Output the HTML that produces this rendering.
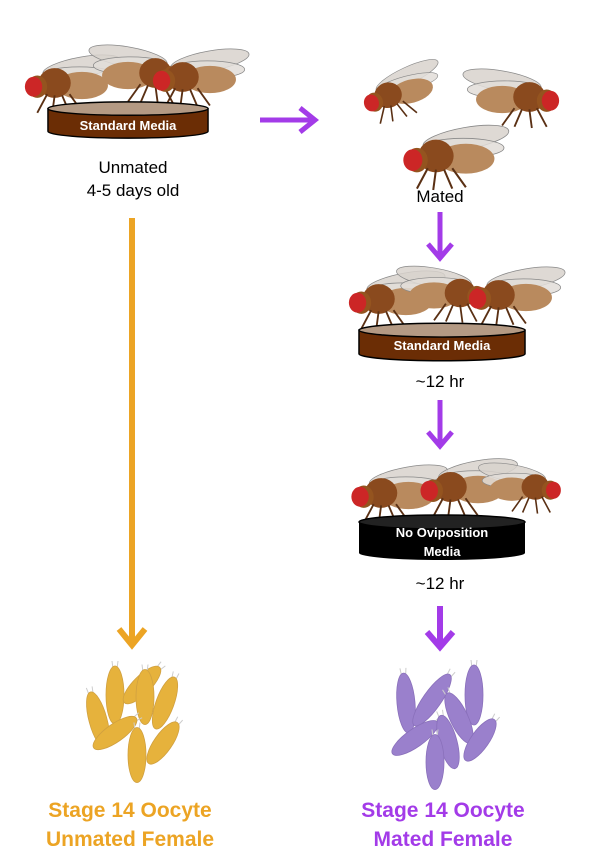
<!DOCTYPE html>
<html><head><meta charset="utf-8"><style>
html,body{margin:0;padding:0;background:#fff}
svg{display:block}
text{font-family:"Liberation Sans",sans-serif}
</style></head><body>
<svg width="590" height="868" viewBox="0 0 590 868">
<defs>
<symbol id="fly" viewBox="0 0 80 50" overflow="visible">
  <ellipse cx="48" cy="12" rx="32" ry="8" fill="#d8d2cc" fill-opacity="0.85" stroke="#888" stroke-width="0.6" transform="rotate(-10 48 12)"/>
  <ellipse cx="46" cy="19" rx="30" ry="7" fill="#e2ddd8" fill-opacity="0.85" stroke="#888" stroke-width="0.6"/>
  <ellipse cx="48" cy="27" rx="21" ry="11" fill="#b98a5e"/>
  <ellipse cx="26" cy="25" rx="13" ry="12" fill="#8a4a1e"/>
  <ellipse cx="12" cy="28" rx="8" ry="9" fill="#94541f"/>
  <ellipse cx="9" cy="28" rx="7" ry="8" fill="#cc2626"/>
  <path d="M20 34 L12 49 M26 35 L24 50 M32 35 L38 49 M38 34 L48 48" stroke="#5a3014" stroke-width="1.5" fill="none"/>
</symbol>
<symbol id="dish" viewBox="0 0 170 40" overflow="visible">
  <path d="M1 8 L1 32 A84 7 0 0 0 169 32 L169 8 Z" fill="currentColor" stroke="#000" stroke-width="1.5"/>
  <ellipse cx="85" cy="8" rx="84" ry="7" fill="#b49a84" stroke="#000" stroke-width="1.5"/>
</symbol>
</defs>

<g>
  <use href="#fly" x="22" y="52" width="100" height="62"/>
  <use href="#fly" x="88" y="42" width="100" height="62" transform="translate(276 0) scale(-1 1)"/>
  <use href="#fly" x="150" y="46" width="100" height="62"/>
</g>
<g style="color:#6b2d05">
  <use href="#dish" x="47" y="100" width="162" height="40"/>
  <text x="128" y="130" text-anchor="middle" font-size="13" font-weight="bold" fill="#fff">Standard Media</text>
</g>
<text x="133" y="173" text-anchor="middle" font-size="17">Unmated</text>
<text x="133" y="196" text-anchor="middle" font-size="17">4-5 days old</text>

<g stroke="#a33be8" stroke-width="5" fill="none">
  <line x1="260" y1="120" x2="314" y2="120"/>
  <polyline points="300,108 315,120 300,132"/>
</g>

<g>
  <use href="#fly" x="360" y="62" width="85" height="60" transform="rotate(-15 400 92)"/>
  <use href="#fly" x="462" y="66" width="100" height="62" transform="translate(1024 0) scale(-1 1)"/>
  <use href="#fly" x="395" y="122" width="120" height="68"/>
</g>
<text x="440" y="202" text-anchor="middle" font-size="17">Mated</text>

<g stroke="#a33be8" stroke-width="5" fill="none">
  <line x1="440" y1="212" x2="440" y2="258"/>
  <polyline points="428,244 440,258 452,244"/>
</g>

<g>
  <use href="#fly" x="346" y="268" width="100" height="62"/>
  <use href="#fly" x="396" y="262" width="95" height="62" transform="translate(887 0) scale(-1 1)"/>
  <use href="#fly" x="466" y="264" width="100" height="62"/>
</g>
<g style="color:#6b2d05">
  <use href="#dish" x="358" y="322" width="168" height="40"/>
  <text x="442" y="350" text-anchor="middle" font-size="13" font-weight="bold" fill="#fff">Standard Media</text>
</g>
<text x="440" y="387" text-anchor="middle" font-size="17">~12 hr</text>

<g stroke="#a33be8" stroke-width="5" fill="none">
  <line x1="440" y1="400" x2="440" y2="446"/>
  <polyline points="428,432 440,446 452,432"/>
</g>

<g>
  <use href="#fly" x="346" y="462" width="105" height="62"/>
  <use href="#fly" x="418" y="454" width="100" height="66"/>
  <use href="#fly" x="478" y="454" width="85" height="66" transform="translate(1041 0) scale(-1 1)"/>
</g>
<g>
  <path d="M359 522 L359 553 A83 7 0 0 0 525 553 L525 522 Z" fill="#000"/>
  <ellipse cx="442" cy="522" rx="83" ry="7" fill="#222" stroke="#000" stroke-width="1.5"/>
  <text x="442" y="537" text-anchor="middle" font-size="13" font-weight="bold" fill="#fff">No Oviposition</text>
  <text x="442" y="556" text-anchor="middle" font-size="13" font-weight="bold" fill="#fff">Media</text>
</g>
<text x="440" y="589" text-anchor="middle" font-size="17">~12 hr</text>

<g stroke="#a33be8" stroke-width="6" fill="none">
  <line x1="440" y1="606" x2="440" y2="648"/>
  <polyline points="427,632 440,647 453,632"/>
</g>

<g stroke="#eca424" stroke-width="6" fill="none">
  <line x1="132" y1="218" x2="132" y2="646"/>
  <polyline points="119,629 132,645 145,629"/>
</g>

<g id="orange-oocytes"></g>
<g id="purple-oocytes"></g>

<text x="130" y="817" text-anchor="middle" font-size="21" font-weight="bold" fill="#eca424">Stage 14 Oocyte</text>
<text x="130" y="846" text-anchor="middle" font-size="21" font-weight="bold" fill="#eca424">Unmated Female</text>
<text x="443" y="817" text-anchor="middle" font-size="21" font-weight="bold" fill="#a33be8">Stage 14 Oocyte</text>
<text x="443" y="846" text-anchor="middle" font-size="21" font-weight="bold" fill="#a33be8">Mated Female</text>
</svg>
<script>
const NS="http://www.w3.org/2000/svg";
function oocytes(gid, list, fill, edge){
  const g=document.getElementById(gid);
  list.forEach(o=>{
    const [cx,cy,rot,len]=o;
    const e=document.createElementNS(NS,"g");
    
    
    e.setAttribute("transform",`rotate(${rot} ${cx} ${cy})`);
    e.innerHTML=`<line x1="${cx-2}" y1="${cy-len/2+3}" x2="${cx-3}" y2="${cy-len/2-5}" stroke="#ccc" stroke-width="1"/><line x1="${cx+2}" y1="${cy-len/2+3}" x2="${cx+3}" y2="${cy-len/2-5}" stroke="#ccc" stroke-width="1"/><ellipse cx="${cx}" cy="${cy}" rx="9" ry="${len/2}" fill="${fill}" stroke="${edge}" stroke-width="0.8"/>`;
    g.appendChild(e);
  });
}
oocytes("orange-oocytes",[[98,720,-15,58],[115,695,0,58],[142,685,45,50],[145,697,0,55],[165,703,20,55],[115,733,55,52],[137,755,0,55],[163,743,35,50]],"#e6b23c","#d0a040");
oocytes("purple-oocytes",[[406,703,-5,60],[432,700,35,62],[474,695,0,60],[459,718,-25,55],[415,738,55,55],[448,742,-15,55],[435,762,0,55],[480,740,35,50]],"#9a80cc","#8a70bb");
</script>
</body></html>
